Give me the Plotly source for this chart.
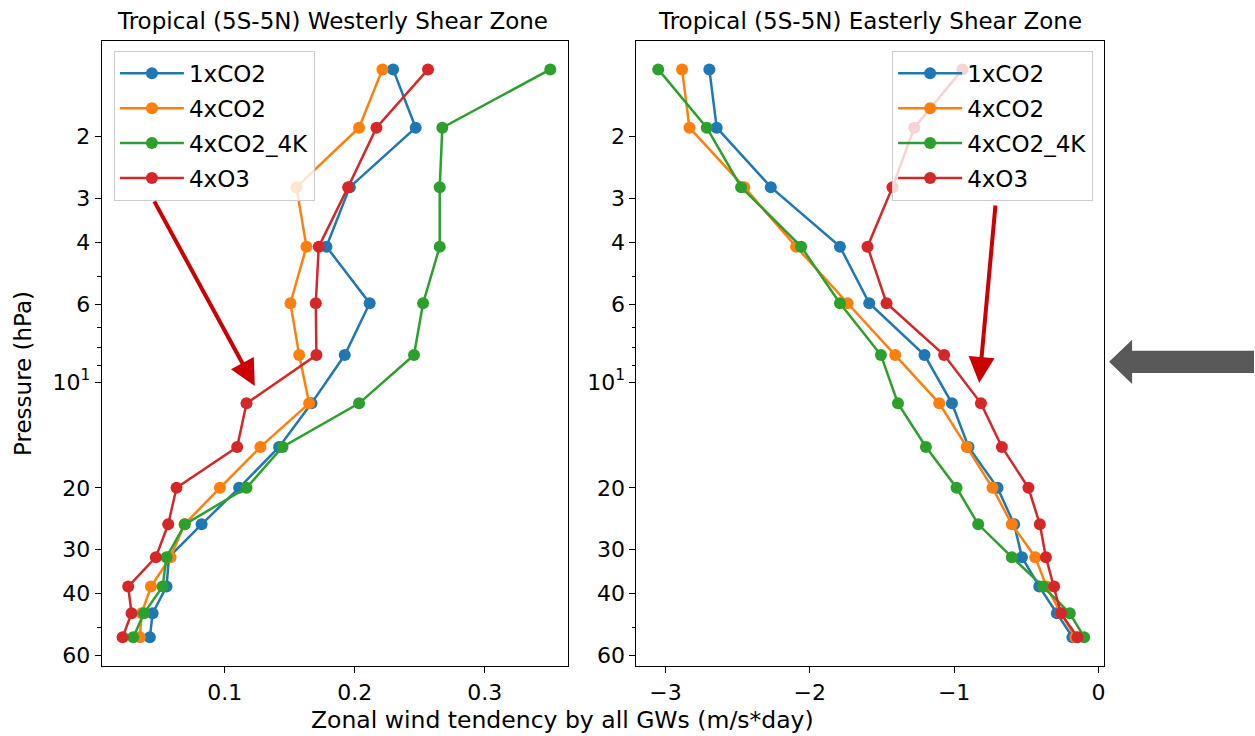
import plotly.graph_objects as go

W, H = 1255, 736

# ---------------- data ----------------
pressure = [1.29, 1.89, 2.79, 4.12, 5.97, 8.38, 11.5, 15.3, 20.0, 25.4, 31.5, 38.2, 45.5, 53.2]

series_names = ["1xCO2", "4xCO2", "4xCO2_4K", "4xO3"]
series_colors = ["#1f77b4", "#ff7f0e", "#2ca02c", "#d62728"]

west_1xCO2 = [0.2295, 0.2469, 0.1962, 0.1782, 0.2115, 0.1923, 0.1667, 0.1418, 0.111, 0.0821, 0.057, 0.0551, 0.0444, 0.0423]
west_4xCO2 = [0.2213, 0.2033, 0.1551, 0.1628, 0.1505, 0.1572, 0.1649, 0.1274, 0.0962, 0.069, 0.0582, 0.0431, 0.036, 0.0346]
west_4xCO2_4K = [0.3505, 0.2674, 0.2654, 0.2654, 0.2526, 0.2456, 0.2033, 0.1444, 0.1167, 0.0692, 0.0551, 0.0521, 0.0377, 0.0295]
west_4xO3 = [0.2564, 0.2167, 0.1949, 0.1723, 0.170, 0.1705, 0.1167, 0.1095, 0.0628, 0.0564, 0.0469, 0.0256, 0.0282, 0.0213]

east_1xCO2 = [-2.696, -2.645, -2.27, -1.791, -1.588, -1.205, -1.015, -0.90, -0.699, -0.584, -0.53, -0.41, -0.288, -0.18]
east_4xCO2 = [-2.885, -2.834, -2.454, -2.095, -1.738, -1.408, -1.103, -0.913, -0.734, -0.60, -0.438, -0.36, -0.26, -0.16]
east_4xCO2_4K = [-3.05, -2.714, -2.476, -2.06, -1.791, -1.507, -1.389, -1.195, -0.983, -0.833, -0.60, -0.383, -0.198, -0.099]
east_4xO3 = [-0.942, -1.276, -1.427, -1.6, -1.468, -1.069, -0.814, -0.669, -0.485, -0.406, -0.364, -0.307, -0.26, -0.145]

west_series = [west_1xCO2, west_4xCO2, west_4xCO2_4K, west_4xO3]
east_series = [east_1xCO2, east_4xCO2, east_4xCO2_4K, east_4xO3]

y_tickvals = [2, 3, 4, 6, 10, 20, 30, 40, 60]
y_ticktext = ["2", "3", "4", "6", "10<sup>1</sup>", "20", "30", "40", "60"]
y_minor = [5, 7, 8, 9, 50]
west_xticks = [0.1, 0.2, 0.3]
west_xtext = ["0.1", "0.2", "0.3"]
east_xticks = [-3, -2, -1, 0]
east_xtext = ["\u22123", "\u22122", "\u22121", "0"]

title_left = "Tropical (5S-5N) Westerly Shear Zone"
title_right = "Tropical (5S-5N) Easterly Shear Zone"
xlabel = "Zonal wind tendency by all GWs (m/s*day)"
ylabel = "Pressure (hPa)"

FONT = "DejaVu Sans"


def px(x):
    return x / W


def py(y):
    return 1 - y / H


fig = go.Figure()

for name, col, vals in zip(series_names, series_colors, west_series):
    fig.add_trace(go.Scatter(
        x=vals, y=pressure, mode="lines+markers", name=name,
        line=dict(color=col, width=2.5), marker=dict(color=col, size=12),
        xaxis="x", yaxis="y", legend="legend", legendgroup="w" + name))

for name, col, vals in zip(series_names, series_colors, east_series):
    fig.add_trace(go.Scatter(
        x=vals, y=pressure, mode="lines+markers", name=name,
        line=dict(color=col, width=2.5), marker=dict(color=col, size=12),
        xaxis="x2", yaxis="y2", legend="legend2", legendgroup="e" + name))

tickfont = dict(family=FONT, size=22, color="black")
common_axis = dict(showline=True, mirror=True, linecolor="black", linewidth=1.3,
                   ticks="outside", ticklen=6, tickwidth=1.3, tickcolor="black",
                   showgrid=False, zeroline=False, tickfont=tickfont)

ydom = [py(668), py(41.5)]
yaxis_common = dict(common_axis, type="log", range=[1.8085, 0.0309],
                    tickmode="array", tickvals=y_tickvals, ticktext=y_ticktext,
                    minor=dict(tickmode="array", tickvals=y_minor, ticks="outside",
                               ticklen=3.5, tickwidth=1.1, tickcolor="black", showgrid=False),
                    domain=ydom)

legend_common = dict(bgcolor="rgba(255,255,255,0.8)", bordercolor="#cccccc", borderwidth=1,
                     font=dict(family=FONT, size=23, color="black"), yanchor="top",
                     tracegroupgap=2, itemwidth=64, traceorder="grouped")

fig.update_layout(
    width=W, height=H,
    margin=dict(l=0, r=0, t=0, b=0),
    paper_bgcolor="white", plot_bgcolor="white",
    font=dict(family=FONT, color="black"),
    xaxis=dict(common_axis, domain=[px(102), px(568)], range=[0.00538, 0.3638],
               tickmode="array", tickvals=west_xticks, ticktext=west_xtext, anchor="y"),
    yaxis=dict(yaxis_common, anchor="x"),
    xaxis2=dict(common_axis, domain=[px(637), px(1105)], range=[-3.2008, 0.0395],
                tickmode="array", tickvals=east_xticks, ticktext=east_xtext, anchor="y2"),
    yaxis2=dict(yaxis_common, anchor="x2"),
    legend=dict(legend_common, x=px(114), y=py(51), xanchor="left"),
    legend2=dict(legend_common, x=px(1094), y=py(51), xanchor="right"),
    showlegend=True,
)

annotations = [
    dict(text=title_left, x=px(333), y=py(21), xref="paper", yref="paper",
         showarrow=False, xanchor="center", yanchor="middle",
         font=dict(family=FONT, size=23, color="black")),
    dict(text=title_right, x=px(871), y=py(21), xref="paper", yref="paper",
         showarrow=False, xanchor="center", yanchor="middle",
         font=dict(family=FONT, size=23, color="black")),
    dict(text=xlabel, x=px(563), y=py(722), xref="paper", yref="paper",
         showarrow=False, xanchor="center", yanchor="middle",
         font=dict(family=FONT, size=23.5, color="black")),
    dict(text=ylabel, x=px(23), y=py(374), xref="paper", yref="paper",
         showarrow=False, xanchor="center", yanchor="middle", textangle=-90,
         font=dict(family=FONT, size=23, color="black")),
    # red arrows
    dict(text=" ", x=px(255), y=py(387), xref="paper", yref="paper",
         showarrow=True, ax=151 - 255, ay=196 - 387, axref="pixel", ayref="pixel",
         arrowcolor="#cc0000", arrowwidth=4, arrowhead=2, arrowsize=1.3, standoff=0),
    dict(text=" ", x=px(980), y=py(384), xref="paper", yref="paper",
         showarrow=True, ax=997 - 980, ay=198 - 384, axref="pixel", ayref="pixel",
         arrowcolor="#cc0000", arrowwidth=4, arrowhead=2, arrowsize=1.3, standoff=0),
]
fig.update_layout(annotations=annotations)

# gray block arrow pointing left, at the right edge
pts = [(1110, 362.7), (1133, 340.7), (1133, 351.7), (1255, 351.7),
       (1255, 374), (1133, 374), (1133, 385)]
path = "M " + " L ".join(f"{px(a):.5f},{py(b):.5f}" for a, b in pts) + " Z"
fig.add_shape(type="path", path=path, xref="paper", yref="paper",
              fillcolor="#595959", line=dict(width=0))

fig.write_html(
    "out.html",
    config={"displayModeBar": False},
    post_script="document.body.style.margin='0';document.body.style.overflow='hidden';",
)
